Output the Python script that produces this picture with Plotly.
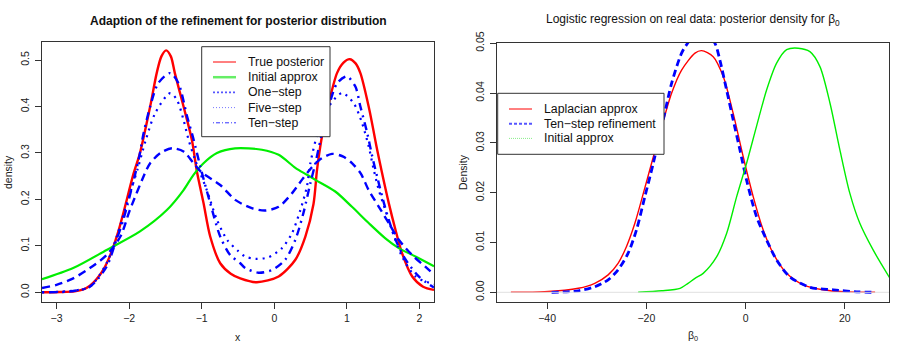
import plotly.graph_objects as go

# ---- left panel: mixture posterior and its refinements ----
post_x = [-3.2, -2.95, -2.75, -2.63, -2.54, -2.45, -2.35, -2.26, -2.16, -2.08, -1.94, -1.85, -1.71, -1.62,
          -1.555, -1.49, -1.425, -1.37, -1.25, -1.135, -1.066, -0.975, -0.883, -0.745, -0.6, -0.469, -0.24,
          0.06, 0.29, 0.428, 0.54, 0.589, 0.648, 0.74, 0.864, 0.95, 1.04, 1.12, 1.186, 1.30, 1.417, 1.48,
          1.577, 1.67, 1.76, 1.90, 2.05, 2.2]
post_y = [0.000, 0.0005, 0.002, 0.006, 0.014, 0.028, 0.05, 0.08, 0.125, 0.17, 0.255, 0.30, 0.40, 0.472,
          0.508, 0.521, 0.508, 0.472, 0.40, 0.328, 0.26, 0.192, 0.12, 0.0625, 0.040, 0.030, 0.0216,
          0.034, 0.070, 0.12, 0.19, 0.264, 0.328, 0.40, 0.472, 0.494, 0.502, 0.493, 0.472, 0.40, 0.307,
          0.26, 0.192, 0.134, 0.084, 0.034, 0.012, 0.005]

init_x = [-3.2, -2.77, -2.31, -1.85, -1.48, -1.25, -1.113, -0.975, -0.79, -0.54, -0.17, 0.06, 0.29,
          0.45, 0.566, 0.84, 1.07, 1.30, 1.53, 1.715, 1.945, 2.2]
init_y = [0.028, 0.052, 0.091, 0.131, 0.177, 0.22, 0.253, 0.278, 0.30, 0.31, 0.307, 0.296, 0.268,
          0.253, 0.242, 0.217, 0.184, 0.149, 0.116, 0.095, 0.077, 0.056]

one_x = [-3.2, -3.0, -2.77, -2.54, -2.31, -2.12, -1.99, -1.76, -1.71, -1.57, -1.41, -1.25, -1.113,
         -1.0, -0.745, -0.538, -0.31, -0.124, 0.06, 0.243, 0.38, 0.50, 0.62, 0.795, 0.95, 1.07, 1.19,
         1.30, 1.44, 1.577, 1.715, 1.90, 2.08, 2.2]
one_y = [0.009, 0.016, 0.030, 0.052, 0.080, 0.12, 0.177, 0.264, 0.278, 0.30, 0.31, 0.303, 0.278,
         0.258, 0.231, 0.199, 0.181, 0.176, 0.184, 0.213, 0.242, 0.266, 0.285, 0.298, 0.292, 0.278,
         0.256, 0.22, 0.184, 0.149, 0.113, 0.080, 0.055, 0.038]

five_x = [-3.2, -2.8, -2.54, -2.31, -2.17, -2.03, -1.88, -1.77, -1.64, -1.434, -1.34, -1.25, -1.18,
          -1.09, -0.93, -0.79, -0.65, -0.5, -0.40, -0.26, -0.08, 0.106, 0.243, 0.359, 0.45, 0.497,
          0.61, 0.75, 0.934, 1.094, 1.21, 1.30, 1.37, 1.44, 1.53, 1.62, 1.76, 1.945, 2.2]
five_y = [0.0, 0.003, 0.012, 0.0625, 0.12, 0.192, 0.267, 0.328, 0.386, 0.429, 0.414, 0.371, 0.328,
          0.285, 0.22, 0.156, 0.113, 0.089, 0.077, 0.0718, 0.0754, 0.095, 0.127, 0.177, 0.228, 0.278,
          0.35, 0.40, 0.429, 0.407, 0.364, 0.314, 0.264, 0.22, 0.177, 0.134, 0.077, 0.034, 0.017]

ten_x = [-3.2, -2.8, -2.54, -2.31, -2.19, -2.08, -1.87, -1.80, -1.71, -1.60, -1.434, -1.32, -1.20,
         -1.11, -1.02, -0.883, -0.745, -0.607, -0.469, -0.40, -0.216, -0.03, 0.15, 0.29, 0.40, 0.497,
         0.566, 0.658, 0.75, 0.865, 1.0, 1.117, 1.186, 1.28, 1.35, 1.417, 1.486, 1.577, 1.69, 1.81,
         1.99, 2.2]
ten_y = [0.0, 0.002, 0.012, 0.055, 0.106, 0.156, 0.285, 0.343, 0.40, 0.45, 0.472, 0.45, 0.378,
         0.328, 0.271, 0.192, 0.12, 0.080, 0.0625, 0.052, 0.042, 0.048, 0.07, 0.113, 0.17, 0.235,
         0.278, 0.343, 0.40, 0.45, 0.465, 0.443, 0.40, 0.343, 0.292, 0.249, 0.206, 0.156, 0.106,
         0.070, 0.034, 0.010]

left_labels = ["True posterior", "Initial approx", "One\u2212step", "Five\u2212step", "Ten\u2212step"]

# ---- right panel: logistic regression, beta_0 ----
lap_x = [-47.3, -40.5, -33.7, -30.4, -27.7, -25.7, -24.0, -22.3, -20.6, -18.95, -16.9, -14.9, -12.9,
         -10.2, -8.87, -6.53, -4.5, -2.5, -0.48, 1.53, 3.55, 5.56, 8.27, 11.6, 15.6, 19.7, 26.1]
lap_y = [0.0, 0.0001, 0.0008, 0.0018, 0.0035, 0.0058, 0.0092, 0.0139, 0.0199, 0.0259, 0.0333, 0.040,
         0.0446, 0.048, 0.0485, 0.0473, 0.0433, 0.0359, 0.0272, 0.0192, 0.0125, 0.0078, 0.0038,
         0.0015, 0.0005, 0.0001, 0.0]

ref_x = [-39.1, -33.7, -30.4, -27.7, -25.7, -23.7, -22.0, -20.3, -18.6, -16.6, -14.9, -12.9, -11.7,
         -9.0, -6.19, -5.18, -3.83, -2.5, -1.15, 0.2, 2.2, 4.23, 6.25, 8.9, 13.0, 17.7, 22.4, 26.1]
ref_y = [0.0, 0.0003, 0.0011, 0.0025, 0.0045, 0.0078, 0.0125, 0.0192, 0.0259, 0.0346, 0.042, 0.048,
         0.050, 0.0535, 0.050, 0.0466, 0.0406, 0.0346, 0.0286, 0.0225, 0.0152, 0.0105, 0.0065,
         0.0031, 0.0010, 0.0005, 0.0001, 0.0]

ini_x = [-21.65, -16.9, -13.2, -11.6, -10.2, -8.55, -5.85, -3.83, -1.8, 0.2, 2.2, 4.23, 6.25, 8.27,
         10.6, 12.96, 14.98, 17.0, 19.0, 21.0, 23.0, 25.7, 29.1]
ini_y = [0.0, 0.0003, 0.0008, 0.0018, 0.0028, 0.0038, 0.0071, 0.0118, 0.0192, 0.0259, 0.0333, 0.0406,
         0.046, 0.0487, 0.049, 0.0483, 0.0453, 0.038, 0.0286, 0.0199, 0.0139, 0.0085, 0.0028]

right_labels = ["Laplacian approx", "Ten\u2212step refinement", "Initial approx"]

W, H = 911, 354
FONT = "Liberation Sans, Arial, sans-serif"


def px(xp):
    return xp / W


def py(yp):
    return 1 - yp / H


fig = go.Figure()

# left panel curves
left_styles = [
    (post_x, post_y, dict(color="#FF0000", width=2.4)),
    (init_x, init_y, dict(color="#00EE00", width=2.2)),
    (one_x, one_y, dict(color="#0000FF", width=2.4, dash="8px,5px")),
    (five_x, five_y, dict(color="#0000FF", width=2.2, dash="2px,5px")),
    (ten_x, ten_y, dict(color="#0000FF", width=2.4, dash="2px,5px,8px,5px")),
]
for xs, ys, ln in left_styles:
    fig.add_trace(go.Scatter(x=xs, y=ys, mode="lines", line=dict(shape="spline", smoothing=0.8, **ln),
                             xaxis="x", yaxis="y", showlegend=False, hoverinfo="skip"))

# right panel curves
right_styles = [
    (lap_x, lap_y, dict(color="#FF0000", width=1.4)),
    (ref_x, ref_y, dict(color="#0000FF", width=2.8, dash="7px,4px")),
    (ini_x, ini_y, dict(color="#00EE00", width=1.4)),
]
for xs, ys, ln in right_styles:
    fig.add_trace(go.Scatter(x=xs, y=ys, mode="lines", line=dict(shape="spline", smoothing=0.8, **ln),
                             xaxis="x2", yaxis="y2", showlegend=False, hoverinfo="skip"))

axis_common = dict(showgrid=False, zeroline=False, showline=True, linecolor="#333", linewidth=1,
                   mirror=True, ticks="outside", ticklen=6, tickcolor="#333", automargin=False,
                   tickfont=dict(family=FONT, size=10.5, color="#222"))

fig.update_layout(
    width=W, height=H, margin=dict(l=0, r=0, t=0, b=0),
    paper_bgcolor="white", plot_bgcolor="white",
    xaxis=dict(domain=[px(42), px(434)], range=[-3.2, 2.2], tickvals=[-3, -2, -1, 0, 1, 2],
               anchor="y", **axis_common),
    yaxis=dict(domain=[py(302), py(42)], range=[-0.021, 0.539], tickvals=[0, 0.1, 0.2, 0.3, 0.4, 0.5],
               tickformat=".1f", tickangle=-90, anchor="x", ticklabelstandoff=2, **axis_common),
    xaxis2=dict(domain=[px(497), px(889)], range=[-50.1, 28.9], tickvals=[-40, -20, 0, 20],
                anchor="y2", **axis_common),
    yaxis2=dict(domain=[py(302), py(42.7)], range=[-0.00195, 0.0501],
                tickvals=[0, 0.01, 0.02, 0.03, 0.04, 0.05], tickformat=".2f", tickangle=-90,
                anchor="x2", ticklabelstandoff=2, **axis_common),
)

# faint zero line on the right panel
fig.add_shape(type="line", xref="x2 domain", yref="y2", x0=0, x1=1, y0=0, y1=0,
              line=dict(color="#E0E0E0", width=1))

ann = []
# titles
ann.append(dict(text="<b>Adaption of the refinement for posterior distribution</b>", x=px(238), y=py(21),
                font=dict(size=12, family=FONT, color="#111")))
ann.append(dict(text="Logistic regression on real data: posterior density for \u03b2<sub>0</sub>",
                x=px(693), y=py(20), font=dict(size=12, family=FONT, color="#111")))
# axis titles
ann.append(dict(text="x", x=px(238), y=py(337), font=dict(size=10.5, family=FONT, color="#222")))
ann.append(dict(text="\u03b2<sub>0</sub>", x=px(693), y=py(336), font=dict(size=10.5, family=FONT, color="#222")))
ann.append(dict(text="density", x=px(8), y=py(172), textangle=-90, font=dict(size=10.5, family=FONT, color="#222")))
ann.append(dict(text="Density", x=px(463), y=py(172), textangle=-90, font=dict(size=10.5, family=FONT, color="#222")))
for a in ann:
    a.update(xref="paper", yref="paper", showarrow=False, xanchor="center", yanchor="middle")
    fig.add_annotation(**a)

# hand-drawn legends (R style boxes)
fig.add_shape(type="rect", xref="paper", yref="paper", x0=px(201.7), x1=px(330), y0=py(136.7), y1=py(46.7),
              line=dict(color="#333", width=1), fillcolor="white")
left_keys = [dict(color="#FF0000", width=1), dict(color="#66EE66", width=2.5),
             dict(color="#5555FF", width=1.6, dash="2px,2px"), dict(color="#7777FF", width=1, dash="1px,2px"),
             dict(color="#3333FF", width=1, dash="1px,2px,4px,2px")]
for i, (lab, ln) in enumerate(zip(left_labels, left_keys)):
    yy = 62 + i * 15.2
    fig.add_shape(type="line", xref="paper", yref="paper", x0=px(213), x1=px(236), y0=py(yy), y1=py(yy), line=ln)
    fig.add_annotation(text=lab, xref="paper", yref="paper", x=px(246), y=py(yy), showarrow=False,
                       xanchor="left", yanchor="middle", font=dict(size=12.3, family=FONT, color="#111"))

fig.add_shape(type="rect", xref="paper", yref="paper", x0=px(497.7), x1=px(664), y0=py(154.3), y1=py(93.3),
              line=dict(color="#333", width=1), fillcolor="white")
right_keys = [dict(color="#FF0000", width=1), dict(color="#5555FF", width=2, dash="3px,2px"),
              dict(color="#88EE88", width=1, dash="1px,1px")]
for i, (lab, ln) in enumerate(zip(right_labels, right_keys)):
    yy = 109 + i * 14.7
    fig.add_shape(type="line", xref="paper", yref="paper", x0=px(509), x1=px(532), y0=py(yy), y1=py(yy), line=ln)
    fig.add_annotation(text=lab, xref="paper", yref="paper", x=px(542), y=py(yy), showarrow=False,
                       xanchor="left", yanchor="middle", font=dict(size=12.3, family=FONT, color="#111"))

# the page body has a default margin; drop it so the figure sits at the window origin
fig.write_html("out.html", config={"displayModeBar": False},
               post_script="document.body.style.margin='0';")
